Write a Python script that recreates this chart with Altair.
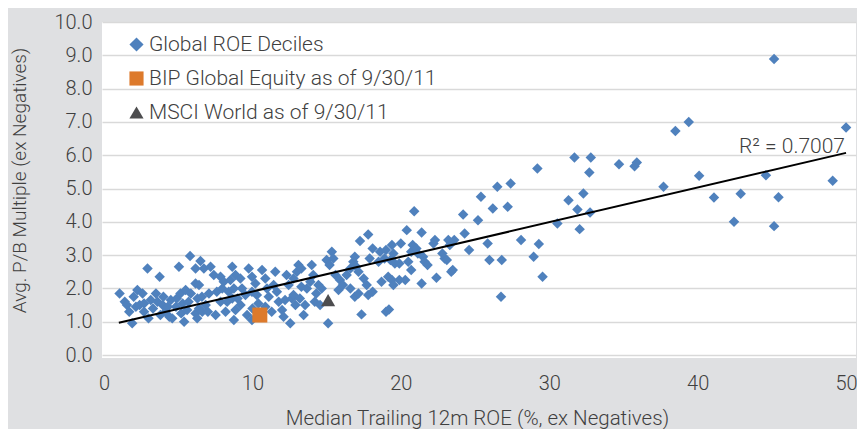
import altair as alt
import pandas as pd

# ---- data ----
roe = [
    1.05, 1.4, 1.55, 1.7, 1.9, 2.0, 2.15, 2.25, 2.4, 2.6, 2.7, 2.7, 2.93, 3.0, 3.15, 3.3, 3.5, 3.6, 3.75, 3.8,
    3.95, 4.0, 4.15, 4.3, 4.4, 4.5, 4.6, 4.85, 4.9, 5.05, 5.15, 5.2, 5.3, 5.4, 5.5, 5.6, 5.7, 5.8, 5.85, 6.17,
    6.17, 6.17, 6.28, 6.4,
    6.5, 6.73, 7.18, 7.4, 6.4, 6.3, 6.6, 7.07, 6.85, 6.62, 7.0, 7.52, 7.6, 7.85, 8.07, 7.97, 7.85, 8.3, 8.19, 8.4,
    8.64, 8.86, 8.52, 8.75, 8.64, 8.86, 8.75, 9.0, 9.19, 9.3, 9.53, 9.2, 9.64, 9.75, 9.97, 10.2, 9.97, 10.3, 10.4, 10.0,
    9.97, 10.65, 10.87, 10.98, 11.1, 10.87, 11.3, 11.54, 11.43, 11.65, 11.77, 12.0, 12.1, 12.3, 12.44, 12.2, 12.55, 12.66,
    12.77, 12.77, 12.9, 13.0, 13.1, 13.3, 13.3, 13.2, 13.45, 13.55, 13.67, 13.9, 14.0, 14.1, 14.2, 14.3, 14.45, 14.56,
    14.67, 15.0, 15.2, 15.35, 15.45, 15.1, 15.6, 15.8, 15.9, 16.1, 16.35, 16.6, 16.6, 16.8, 16.9, 16.9, 17.0, 17.15,
    17.15, 17.25, 17.35, 17.5, 17.7, 17.8, 17.8, 17.9, 18.1, 18.1, 18.5, 18.6, 18.7, 18.9, 19.0,
    19.0, 19.15, 19.2, 19.3, 19.4, 19.4, 19.5, 19.5, 19.6, 19.9, 19.9, 20.0, 20.3, 20.4, 20.5, 20.7, 20.7, 20.8,
    20.9, 21.05, 21.15, 21.4, 21.4, 21.5, 21.6, 21.8, 22.2, 22.3, 22.4, 22.8, 22.95, 23.1, 23.2, 23.3, 23.4, 23.5,
    23.6, 24.2, 24.3, 24.6, 25.2, 25.4,
    25.85, 25.97, 26.2, 26.5, 26.75, 26.8, 27.2, 27.4, 28.1, 28.95, 29.2, 29.3, 29.55, 30.55, 31.3, 31.7, 31.9,
    32.05, 32.3, 32.7, 32.75, 32.8, 34.7, 35.75, 35.9, 37.7, 38.5, 39.4, 40.1, 41.1, 42.45, 42.9, 44.6, 45.15,
    45.15, 45.45, 49.1, 50.0,
]
pb = [
    1.85, 1.6, 1.5, 1.3, 0.95, 1.75, 1.45, 1.95, 1.5, 1.85, 1.55, 1.3, 2.6, 1.1, 1.65, 1.4, 1.85, 1.6, 2.35, 1.2,
    1.5, 1.75, 1.3, 1.45, 1.15, 1.65, 1.1, 1.45, 1.7, 2.65, 1.85, 1.25, 1.55, 1.0, 1.95, 1.35, 1.6, 2.97, 1.85, 2.6,
    2.15, 1.25, 1.1, 1.4,
    2.82, 2.6, 2.65, 2.4, 2.1, 1.7, 1.75, 1.85, 1.5, 1.3, 1.3, 1.2, 1.9, 2.35, 2.2, 2.0, 1.6, 1.6, 1.3, 1.9,
    2.65, 2.4, 2.25, 2.0, 1.7, 1.35, 1.05, 1.7, 2.3, 2.0, 1.8, 1.5, 1.2, 2.6, 2.35, 2.15, 1.9, 1.8, 1.55, 1.4,
    1.05, 2.55, 2.3, 2.0, 1.75, 1.45, 1.3, 2.5, 2.1, 1.9, 1.6, 1.35, 1.15, 2.4, 2.1, 1.65, 0.95, 1.7,
    2.3, 1.8, 1.5, 2.5, 2.7, 2.6, 2.05, 1.7, 1.2, 1.5, 2.0, 2.2, 2.7, 2.4, 1.6, 1.85, 2.1, 1.5,
    2.0, 2.85, 2.7, 3.1, 2.9, 0.95, 2.4, 1.95, 2.25, 2.1, 2.4, 2.6, 2.0, 2.8, 2.95, 1.75, 2.65, 2.5,
    1.85, 3.42, 1.22, 2.3, 2.1, 3.62, 1.8, 2.9, 3.2, 1.9, 2.8, 3.1, 2.2, 2.9, 1.3,
    3.15, 2.35, 1.37, 2.85, 3.3, 2.25, 3.05, 2.1, 2.75, 2.75, 2.25, 3.35, 2.25, 3.75, 2.8, 3.1, 2.55, 3.3,
    4.32, 3.2, 3.05, 3.68, 2.15, 2.95, 2.8, 2.7, 3.35, 3.45, 2.32, 3.05, 2.9, 2.85, 3.45, 3.3, 2.5, 2.55,
    3.45, 4.22, 3.65, 3.15, 4.05, 4.75,
    3.35, 2.85, 4.4, 5.05, 1.75, 2.85, 4.45, 5.15, 3.45, 2.95, 5.6, 3.33, 2.35, 3.95, 4.65, 5.93, 4.37,
    3.78, 4.85, 5.48, 4.28, 5.93, 5.73, 5.67, 5.78, 5.05, 6.73, 7.0, 5.38, 4.73, 4.0, 4.84, 5.4, 8.89,
    3.87, 4.74, 5.23, 6.83,
]
bip_roe = [10.5]
bip_pb = [1.2]
msci_roe = [15.1]
msci_pb = [1.65]
trend_roe = [1.0, 50.0]
trend_pb = [0.97, 6.07]
series_names = ["Global ROE Deciles", "BIP Global Equity as of 9/30/11", "MSCI World as of 9/30/11"]
x_ticks = [0, 10, 20, 30, 40, 50]
y_ticks = [0, 1, 2, 3, 4, 5, 6, 7, 8, 9, 10]
r2_label = ["R² = 0.7007"]

FONT = "Roboto"
TXT = "#3f3f3f"

deciles = pd.DataFrame({"roe": roe, "pb": pb, "series": series_names[0]})
bip = pd.DataFrame({"roe": bip_roe, "pb": bip_pb, "series": series_names[1]})
msci = pd.DataFrame({"roe": msci_roe, "pb": msci_pb, "series": series_names[2]})
trend = pd.DataFrame({"roe": trend_roe, "pb": trend_pb})
label_df = pd.DataFrame({"label": r2_label})

x_enc = alt.X(
    "roe:Q",
    scale=alt.Scale(domain=[-0.135, 50.67], nice=False, zero=False),
    axis=alt.Axis(
        values=x_ticks, title="Median Trailing 12m ROE (%, ex Negatives)", grid=False,
        domain=False, ticks=False, tickSize=0, labelPadding=25, labelBaseline="middle",
        labelOverlap=False, labelFlush=False, titleFontSize=20.5,
        titleX=375, titleY=60, titleBaseline="middle",
    ),
)
y_enc = alt.Y(
    "pb:Q",
    scale=alt.Scale(domain=[-0.09, 10], nice=False, zero=False),
    axis=alt.Axis(
        values=y_ticks, format=".1f", title="Avg. P/B Multiple (ex Negatives)", grid=True,
        gridColor="#d9d9d9", gridWidth=1.5, domain=False, ticks=False, tickSize=0,
        labelPadding=10, labelOverlap=False, labelFlush=False,
        titleX=-83, titleY=158, titleAngle=-90, titleBaseline="middle",
        titleAlign="center",
    ),
)
color_scale = alt.Scale(domain=series_names, range=["#4f81bd", "#dd7a2c", "#4d4d4f"])
shape_scale = alt.Scale(domain=series_names, range=["diamond", "square", "triangle-up"])
color_enc = alt.Color("series:N", scale=color_scale, legend=alt.Legend(title=None))
shape_enc = alt.Shape("series:N", scale=shape_scale, legend=alt.Legend(title=None))

points = alt.Chart(deciles).mark_point(filled=True, size=110, opacity=1).encode(
    x=x_enc, y=y_enc, color=color_enc, shape=shape_enc
)
trend_line = alt.Chart(trend).mark_line(color="black", strokeWidth=2).encode(x=x_enc, y=y_enc)
bip_pt = alt.Chart(bip).mark_point(filled=True, size=225, opacity=1).encode(
    x=x_enc, y=y_enc, color=color_enc, shape=shape_enc
)
msci_pt = alt.Chart(msci).mark_point(filled=True, size=200, opacity=1).encode(
    x=x_enc, y=y_enc, color=color_enc, shape=shape_enc
)
r2_text = alt.Chart(label_df).mark_text(
    align="right", baseline="middle", font=FONT, fontSize=21, fontWeight=300, color=TXT
).encode(x=alt.value(743), y=alt.value(125), text="label:N")

chart = (
    alt.layer(points, trend_line, bip_pt, msci_pt, r2_text)
    .properties(
        width=754, height=336,
        padding={"left": 94, "top": 14, "right": 1, "bottom": 71},
        autosize=alt.AutoSizeParams(type="none"),
        background="#dfe0e2",
    )
    .configure_view(fill="white", strokeWidth=0)
    .configure_axis(
        labelFont=FONT, labelFontSize=20, labelColor=TXT, labelFontWeight=300,
        titleFont=FONT, titleFontSize=19, titleColor=TXT, titleFontWeight=300,
    )
    .configure_legend(
        orient="none", legendX=24, legendY=12, padding=0, labelFont=FONT, labelFontSize=21,
        labelFontWeight=300, labelColor=TXT, labelLimit=500, symbolSize=200, rowPadding=12,
        labelOffset=2, symbolOpacity=1, symbolStrokeWidth=0,
    )
)

chart.save("out.html", embed_options={"renderer": "svg", "actions": False})
